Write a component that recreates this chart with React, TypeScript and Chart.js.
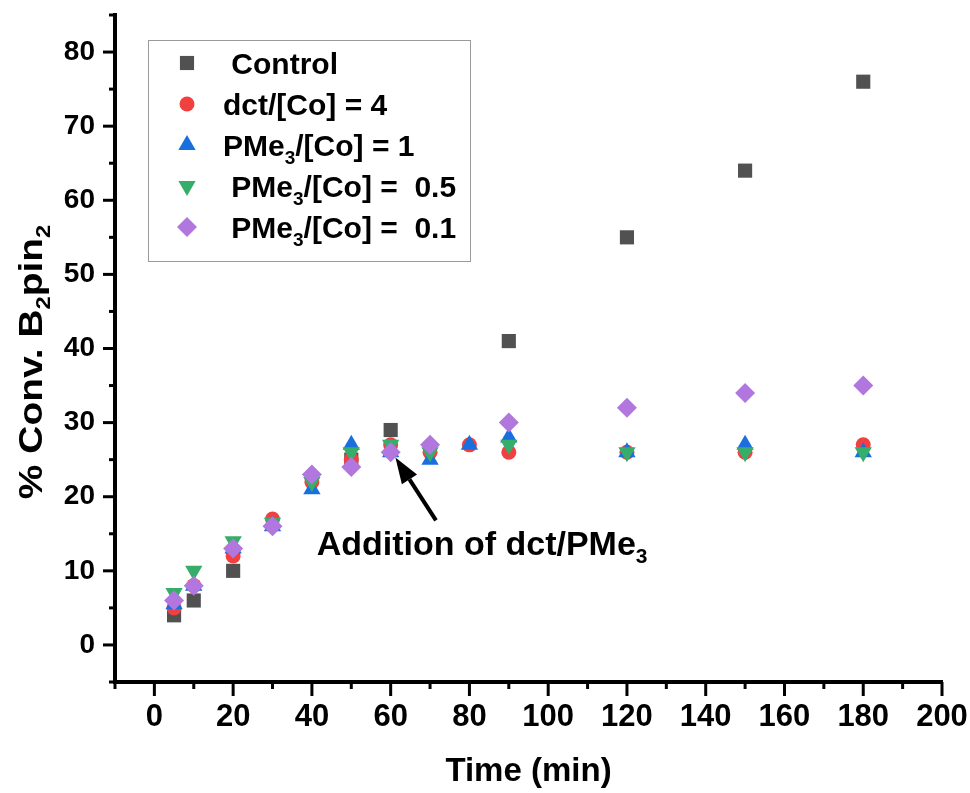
import React, { useEffect, useRef } from "react";
import { Chart, registerables } from "chart.js";

Chart.register(...registerables);

// ---- data ----
const controlTime = [5, 10, 20, 50, 60, 90, 120, 150, 180];
const controlConv = [4, 6, 10, 25, 29, 41, 55, 64, 76];

const dctTime = [5, 10, 20, 30, 40, 50, 60, 70, 80, 90, 120, 150, 180];
const dctConv = [5, 8, 12, 17, 22, 25, 27, 26, 27, 26, 26, 26, 27];

const pme1Time = [5, 10, 20, 30, 40, 50, 60, 70, 80, 90, 120, 150, 180];
const pme1Conv = [5.5, 8, 13, 16, 21, 27, 26, 25, 27, 28, 26, 27, 26];

const pme05Time = [5, 10, 20, 30, 40, 50, 60, 70, 90, 120, 150, 180];
const pme05Conv = [7, 10, 14, 16.5, 22, 26, 27, 26, 27, 26, 26, 26];

const pme01Time = [5, 10, 20, 30, 40, 50, 60, 70, 90, 120, 150, 180];
const pme01Conv = [6, 8, 13, 16, 23, 24, 26, 27, 30, 32, 34, 35];

const xMajorTicks = [0, 20, 40, 60, 80, 100, 120, 140, 160, 180, 200];
const xMinorTicks = [-10, 10, 30, 50, 70, 90, 110, 130, 150, 170, 190];
const yMajorTicks = [0, 10, 20, 30, 40, 50, 60, 70, 80];
const yMinorTicks = [-5, 5, 15, 25, 35, 45, 55, 65, 75, 85];

const X_MIN = -10, X_MAX = 200, Y_MIN = -5, Y_MAX = 85;

// annotation anchor (data units)
const arrowTip = { x: 61.2, y: 25.3 };
const arrowTail = { x: 71.5, y: 16.8 };
const noteAnchor = { x: 41.2, y: 12.2 };

type Seg = { t: string; sub?: boolean };
const legendItems: { label: Seg[]; color: string; style: string }[] = [
  { label: [{ t: " Control" }], color: "#515151", style: "rect" },
  { label: [{ t: "dct/[Co] = 4" }], color: "#F14040", style: "circle" },
  { label: [{ t: "PMe" }, { t: "3", sub: true }, { t: "/[Co] = 1" }], color: "#1A6FDF", style: "triangle" },
  { label: [{ t: " PMe" }, { t: "3", sub: true }, { t: "/[Co] =  0.5" }], color: "#37AD6B", style: "triangleDown" },
  { label: [{ t: " PMe" }, { t: "3", sub: true }, { t: "/[Co] =  0.1" }], color: "#B177DE", style: "rectRot" },
];
const yTitle: Seg[] = [{ t: "% Conv. B" }, { t: "2", sub: true }, { t: "pin" }, { t: "2", sub: true }];
const xTitle: Seg[] = [{ t: "Time (min)" }];
const noteText: Seg[] = [{ t: "Addition of dct/PMe" }, { t: "3", sub: true }];

const FAMILY = '"Liberation Sans", Arial, Helvetica, sans-serif';
const NARROW = '"Liberation Sans Narrow", "Arial Narrow", "Liberation Sans", Arial, sans-serif';

function pts(xs: number[], ys: number[]) {
  return xs.map((x, i) => ({ x, y: ys[i] }));
}

function drawRich(ctx: CanvasRenderingContext2D, segs: Seg[], x: number, y: number, size: number, align: "left" | "center", sx = 1, weight = "bold") {
  ctx.save();
  ctx.translate(x, y);
  ctx.scale(sx, 1);
  const main = `${weight} ${size}px ${FAMILY}`;
  const sub = `${weight} ${Math.round(size * 0.62)}px ${FAMILY}`;
  let total = 0;
  for (const s of segs) {
    ctx.font = s.sub ? sub : main;
    total += ctx.measureText(s.t).width;
  }
  let cx = align === "center" ? -total / 2 : 0;
  ctx.textAlign = "left";
  ctx.textBaseline = "alphabetic";
  ctx.fillStyle = "#000";
  for (const s of segs) {
    ctx.font = s.sub ? sub : main;
    ctx.fillText(s.t, cx, s.sub ? size * 0.25 : 0);
    cx += ctx.measureText(s.t).width;
  }
  ctx.restore();
}

function drawMarker(ctx: CanvasRenderingContext2D, style: string, x: number, y: number, r: number, color: string) {
  ctx.save();
  ctx.fillStyle = color;
  ctx.beginPath();
  if (style === "rect") {
    const s = Math.SQRT1_2 * r;
    ctx.rect(x - s, y - s, 2 * s, 2 * s);
  } else if (style === "circle") {
    ctx.arc(x, y, r, 0, Math.PI * 2);
  } else if (style === "triangle" || style === "triangleDown") {
    const d = style === "triangle" ? 1 : -1;
    ctx.moveTo(x, y - d * r);
    ctx.lineTo(x + 0.866 * r, y + d * 0.5 * r);
    ctx.lineTo(x - 0.866 * r, y + d * 0.5 * r);
    ctx.closePath();
  } else if (style === "rectRot") {
    ctx.moveTo(x, y - r);
    ctx.lineTo(x + r, y);
    ctx.lineTo(x, y + r);
    ctx.lineTo(x - r, y);
    ctx.closePath();
  }
  ctx.fill();
  ctx.restore();
}

const radii: Record<string, number> = { rect: 10, circle: 7.5, triangle: 10, triangleDown: 10, rectRot: 10 };

const decorPlugin = {
  id: "decor",
  afterDraw(chart: any) {
    const ctx: CanvasRenderingContext2D = chart.ctx;
    const xs = chart.scales.x;
    const ys = chart.scales.y;
    const ca = chart.chartArea;
    ctx.save();
    ctx.strokeStyle = "#000";
    ctx.lineWidth = 3;
    ctx.lineCap = "butt";
    const line = (x1: number, y1: number, x2: number, y2: number) => {
      ctx.beginPath();
      ctx.moveTo(x1, y1);
      ctx.lineTo(x2, y2);
      ctx.stroke();
    };
    for (const v of xMajorTicks) { const p = xs.getPixelForValue(v); line(p, ca.bottom, p, ca.bottom + 14); }
    for (const v of xMinorTicks) { const p = xs.getPixelForValue(v); line(p, ca.bottom, p, ca.bottom + 7); }
    for (const v of yMajorTicks) { const p = ys.getPixelForValue(v); line(ca.left, p, ca.left - 12, p); }
    for (const v of yMinorTicks) { const p = ys.getPixelForValue(v); line(ca.left, p, ca.left - 6, p); }
    ctx.restore();

    // legend box
    ctx.save();
    ctx.strokeStyle = "#9a9a9a";
    ctx.lineWidth = 1;
    ctx.strokeRect(148.5, 40.5, 322, 221);
    legendItems.forEach((it, i) => {
      const cy = 63 + i * 41;
      drawMarker(ctx, it.style, 187, cy, radii[it.style], it.color);
      drawRich(ctx, it.label, 223, cy + 11, 30, "left");
    });
    ctx.restore();

    // axis titles
    ctx.save();
    ctx.translate(42, 362);
    ctx.rotate(-Math.PI / 2);
    drawRich(ctx, yTitle, 0, 0, 33, "center", 1.18);
    ctx.restore();
    drawRich(ctx, xTitle, (ca.left + ca.right) / 2, 781, 33, "center");

    // annotation arrow
    const tx = xs.getPixelForValue(arrowTip.x), ty = ys.getPixelForValue(arrowTip.y);
    const bx = xs.getPixelForValue(arrowTail.x), by = ys.getPixelForValue(arrowTail.y);
    const ang = Math.atan2(ty - by, tx - bx);
    const headLen = 26, headW = 9;
    const hx = tx - Math.cos(ang) * headLen, hy = ty - Math.sin(ang) * headLen;
    ctx.save();
    ctx.strokeStyle = "#000";
    ctx.fillStyle = "#000";
    ctx.lineWidth = 4;
    ctx.beginPath();
    ctx.moveTo(bx, by);
    ctx.lineTo(hx, hy);
    ctx.stroke();
    ctx.beginPath();
    ctx.moveTo(tx, ty);
    ctx.lineTo(hx + Math.sin(ang) * headW, hy - Math.cos(ang) * headW);
    ctx.lineTo(hx - Math.sin(ang) * headW, hy + Math.cos(ang) * headW);
    ctx.closePath();
    ctx.fill();
    ctx.restore();
    drawRich(ctx, noteText, xs.getPixelForValue(noteAnchor.x), ys.getPixelForValue(noteAnchor.y), 34, "left");
  },
};

export default function App() {
  const ref = useRef<HTMLCanvasElement | null>(null);
  useEffect(() => {
    if (!ref.current) return;
    const mk = (label: string, xs: number[], ys: number[], color: string, style: string, r: number, order: number, rot = 0) => ({
      label,
      data: pts(xs, ys),
      backgroundColor: color,
      borderColor: color,
      pointBackgroundColor: color,
      pointBorderWidth: 0,
      pointStyle: style,
      pointRadius: r,
      pointHoverRadius: r,
      pointRotation: rot,
      showLine: false,
      order,
    });
    const chart = new Chart(ref.current, {
      type: "scatter",
      data: {
        datasets: [
          mk("Control", controlTime, controlConv, "#515151", "rect", 10, 5),
          mk("dct/[Co] = 4", dctTime, dctConv, "#F14040", "circle", 7.5, 4),
          mk("PMe3/[Co] = 1", pme1Time, pme1Conv, "#1A6FDF", "triangle", 10, 3),
          mk("PMe3/[Co] = 0.5", pme05Time, pme05Conv, "#37AD6B", "triangle", 10, 2, 180),
          mk("PMe3/[Co] = 0.1", pme01Time, pme01Conv, "#B177DE", "rectRot", 10, 1),
        ] as any,
      },
      options: {
        animation: false,
        responsive: false,
        devicePixelRatio: 1,
        layout: { padding: { top: 15, right: 28, left: 0, bottom: 0 } },
        plugins: { legend: { display: false }, tooltip: { enabled: false }, title: { display: false } },
        scales: {
          x: {
            type: "linear",
            min: X_MIN,
            max: X_MAX,
            afterBuildTicks: (s: any) => {
              s.ticks = xMajorTicks.map((v) => ({ value: v }));
            },
            afterFit: (s: any) => {
              s.height = 111;
              s.paddingLeft = 0;
              s.paddingRight = 0;
            },
            grid: { display: false, drawTicks: false, tickLength: 0 },
            border: { display: true, width: 4, color: "#000" },
            ticks: {
              autoSkip: false,
              maxRotation: 0,
              padding: 17,
              color: "#000",
              font: { family: NARROW, weight: "bold", size: 31 },
            },
          },
          y: {
            type: "linear",
            min: Y_MIN,
            max: Y_MAX,
            afterBuildTicks: (s: any) => {
              s.ticks = yMajorTicks.map((v) => ({ value: v }));
            },
            afterFit: (s: any) => {
              s.width = 115;
              s.paddingTop = 0;
              s.paddingBottom = 0;
            },
            grid: { display: false, drawTicks: false, tickLength: 0 },
            border: { display: true, width: 4, color: "#000" },
            ticks: {
              autoSkip: false,
              padding: 20,
              color: "#000",
              font: { family: FAMILY, weight: "bold", size: 28 },
            },
          },
        },
      } as any,
      plugins: [decorPlugin],
    });
    return () => chart.destroy();
  }, []);
  return (
    <div style={{ position: "absolute", left: 0, top: 0, width: 970, height: 793, background: "#fff" }}>
      <canvas ref={ref} width={970} height={793} style={{ width: 970, height: 793, display: "block" }} />
    </div>
  );
}
